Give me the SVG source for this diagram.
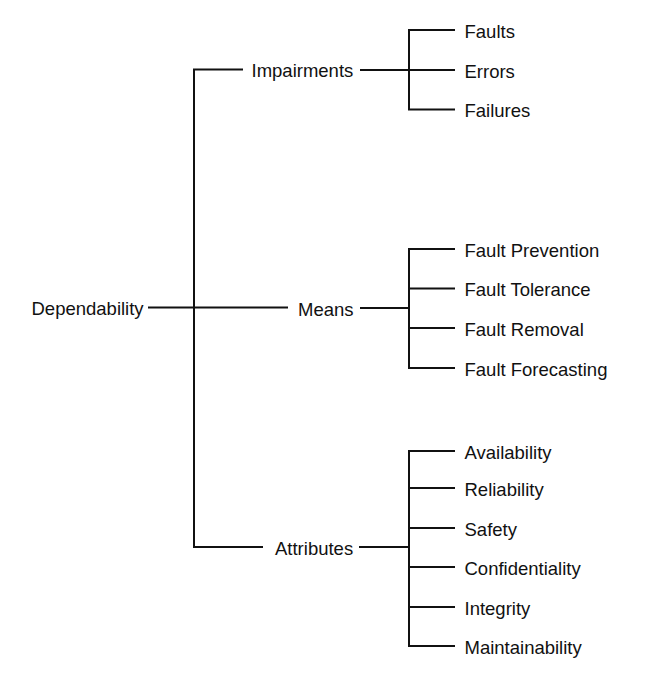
<svg xmlns="http://www.w3.org/2000/svg" width="652" height="680" viewBox="0 0 652 680">
<style>
.c line, .c path { stroke:#111; stroke-width:2; fill:none; }
text { font-family:"Liberation Sans", Arial, sans-serif; font-size:18.5px; fill:#111; }
</style>
<rect width="652" height="680" fill="#fff"/>
<g class="c" id="connectors">
<path d="M243,69.5 H194 V547 H263"/>
<line x1="148" y1="307.5" x2="288" y2="307.5"/>
<line x1="360" y1="70" x2="409" y2="70"/>
<path d="M455,30 H409 V109.5 H455"/>
<line x1="409" y1="70" x2="455" y2="70"/>
<line x1="360" y1="308" x2="409" y2="308"/>
<path d="M455,249 H409 V368 H455"/>
<line x1="409" y1="288.5" x2="455" y2="288.5"/>
<line x1="409" y1="328" x2="455" y2="328"/>
<line x1="359" y1="547" x2="409" y2="547"/>
<path d="M455,451 H409 V646 H455"/>
<line x1="409" y1="488" x2="455" y2="488"/>
<line x1="409" y1="528" x2="455" y2="528"/>
<line x1="409" y1="567" x2="455" y2="567"/>
<line x1="409" y1="607" x2="455" y2="607"/>
</g>
<g id="dependability"><text x="31.5" y="315">Dependability</text></g>
<g id="impairments"><text x="251.5" y="77">Impairments</text></g>
<g id="means"><text x="298" y="315.5">Means</text></g>
<g id="attributes"><text x="275" y="554.5">Attributes</text></g>
<g id="faults"><text x="464.5" y="37.5">Faults</text></g>
<g id="errors"><text x="464.5" y="77.5">Errors</text></g>
<g id="failures"><text x="464.5" y="117">Failures</text></g>
<g id="fault-prevention"><text x="464.5" y="256.5">Fault Prevention</text></g>
<g id="fault-tolerance"><text x="464.5" y="296">Fault Tolerance</text></g>
<g id="fault-removal"><text x="464.5" y="335.5">Fault Removal</text></g>
<g id="fault-forecasting"><text x="464.5" y="375.5">Fault Forecasting</text></g>
<g id="availability"><text x="464.5" y="458.5">Availability</text></g>
<g id="reliability"><text x="464.5" y="495.5">Reliability</text></g>
<g id="safety"><text x="464.5" y="535.5">Safety</text></g>
<g id="confidentiality"><text x="464.5" y="574.5">Confidentiality</text></g>
<g id="integrity"><text x="464.5" y="614.5">Integrity</text></g>
<g id="maintainability"><text x="464.5" y="653.5">Maintainability</text></g>
</svg>
